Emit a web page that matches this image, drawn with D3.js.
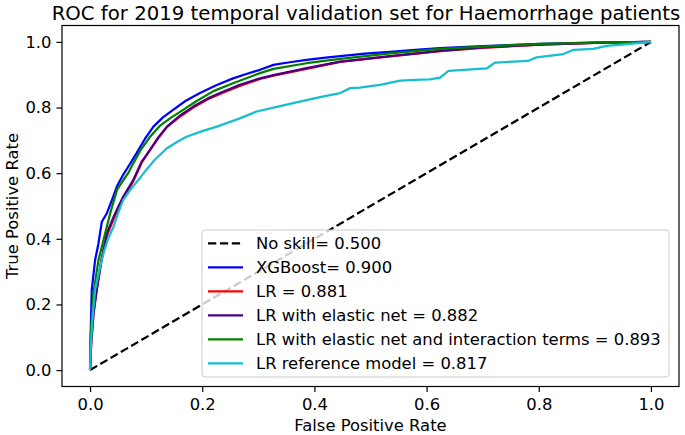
<!DOCTYPE html>
<html>
<head>
<meta charset="utf-8">
<script src="https://cdn.jsdelivr.net/npm/d3@7"></script>
<style>
  html, body { margin: 0; padding: 0; background: #fff; }
  svg { display: block; font-family: "DejaVu Sans", sans-serif; }
</style>
</head>
<body>
<svg id="chart" width="685" height="435"></svg>
<script>
// ---------------- data ----------------
const titleText = "ROC for 2019 temporal validation set for Haemorrhage patients";
const xLabel = "False Positive Rate";
const yLabel = "True Positive Rate";
const tickValues = [0, 0.2, 0.4, 0.6, 0.8, 1.0];

const noSkillFpr = [0, 1];
const noSkillTpr = [0, 1];

const xgbFpr = [0, 0.001, 0.003, 0.009, 0.015, 0.021, 0.030, 0.039, 0.048, 0.059, 0.070, 0.083, 0.098, 0.113, 0.130, 0.148, 0.170, 0.196, 0.225, 0.255, 0.280, 0.303, 0.327, 0.356, 0.386, 0.416, 0.446, 0.490, 0.535, 0.580, 0.624, 0.700, 0.802, 0.900, 1.0];
const xgbTpr = [0, 0.10, 0.244, 0.335, 0.386, 0.452, 0.478, 0.518, 0.560, 0.595, 0.625, 0.661, 0.705, 0.742, 0.770, 0.793, 0.820, 0.844, 0.868, 0.889, 0.903, 0.915, 0.930, 0.938, 0.945, 0.951, 0.957, 0.964, 0.970, 0.976, 0.981, 0.987, 0.994, 0.998, 1.0];

const lrFpr = [0, 0.002, 0.006, 0.012, 0.020, 0.030, 0.042, 0.059, 0.077, 0.092, 0.107, 0.122, 0.137, 0.160, 0.184, 0.210, 0.238, 0.267, 0.303, 0.327, 0.386, 0.446, 0.535, 0.624, 0.700, 0.802, 0.900, 1.0];
const lrTpr = [0, 0.08, 0.17, 0.25, 0.335, 0.41, 0.46, 0.525, 0.575, 0.632, 0.672, 0.708, 0.740, 0.772, 0.800, 0.825, 0.846, 0.866, 0.887, 0.897, 0.918, 0.939, 0.956, 0.972, 0.982, 0.992, 0.997, 1.0];

const enFpr = [0, 0.002, 0.006, 0.012, 0.020, 0.030, 0.042, 0.059, 0.077, 0.092, 0.107, 0.122, 0.137, 0.160, 0.184, 0.210, 0.238, 0.267, 0.303, 0.327, 0.386, 0.446, 0.535, 0.624, 0.700, 0.802, 0.900, 1.0];
const enTpr = [0, 0.08, 0.17, 0.244, 0.33, 0.417, 0.467, 0.528, 0.579, 0.635, 0.670, 0.710, 0.742, 0.775, 0.803, 0.828, 0.849, 0.869, 0.889, 0.899, 0.920, 0.940, 0.957, 0.973, 0.983, 0.992, 0.997, 1.0];

const enIntFpr = [0, 0.001, 0.006, 0.015, 0.027, 0.036, 0.048, 0.060, 0.068, 0.077, 0.090, 0.107, 0.125, 0.145, 0.166, 0.190, 0.220, 0.255, 0.280, 0.303, 0.327, 0.386, 0.446, 0.535, 0.624, 0.700, 0.802, 0.900, 1.0];
const enIntTpr = [0, 0.10, 0.234, 0.335, 0.417, 0.478, 0.549, 0.580, 0.600, 0.630, 0.670, 0.711, 0.745, 0.770, 0.793, 0.820, 0.850, 0.874, 0.890, 0.905, 0.918, 0.935, 0.948, 0.965, 0.979, 0.986, 0.994, 0.998, 1.0];

const refFpr = [0, 0.001, 0.004, 0.009, 0.016, 0.024, 0.032, 0.042, 0.050, 0.059, 0.072, 0.086, 0.100, 0.115, 0.137, 0.155, 0.172, 0.200, 0.226, 0.267, 0.297, 0.335, 0.374, 0.410, 0.446, 0.463, 0.481, 0.517, 0.553, 0.590, 0.606, 0.624, 0.639, 0.707, 0.722, 0.781, 0.796, 0.844, 0.862, 0.897, 0.921, 0.963, 1.0];
const refTpr = [0, 0.06, 0.15, 0.244, 0.30, 0.356, 0.40, 0.437, 0.478, 0.518, 0.550, 0.579, 0.610, 0.640, 0.676, 0.695, 0.711, 0.728, 0.742, 0.767, 0.788, 0.803, 0.818, 0.832, 0.844, 0.859, 0.861, 0.869, 0.882, 0.885, 0.886, 0.891, 0.912, 0.919, 0.937, 0.942, 0.953, 0.963, 0.976, 0.979, 0.988, 0.994, 1.0];

const seriesNames = [
  "No skill= 0.500",
  "XGBoost= 0.900",
  "LR = 0.881",
  "LR with elastic net = 0.882",
  "LR with elastic net and interaction terms = 0.893",
  "LR reference model = 0.817"
];
const seriesColors = ["#000000", "#0000ff", "#ff0000", "#4b0082", "#008000", "#17becf"];
const seriesFpr = [noSkillFpr, xgbFpr, lrFpr, enFpr, enIntFpr, refFpr];
const seriesTpr = [noSkillTpr, xgbTpr, lrTpr, enTpr, enIntTpr, refTpr];

// ---------------- layout ----------------
const svg = d3.select("#chart");
const L = 62, R = 679, T = 25.5, B = 386.5;
const FS = 16.4, TFS = 19.7;

const x = d3.scaleLinear().domain([-0.05, 1.05]).range([L, R]);
const y = d3.scaleLinear().domain([-0.05, 1.05]).range([B, T]);

svg.append("defs").append("clipPath").attr("id", "clip")
  .append("rect").attr("x", L).attr("y", T).attr("width", R - L).attr("height", B - T);

const line = d3.line().x(d => x(d[0])).y(d => y(d[1]));

const plot = svg.append("g").attr("clip-path", "url(#clip)");
seriesNames.forEach((name, i) => {
  const pts = seriesFpr[i].map((f, k) => [f, seriesTpr[i][k]]);
  plot.append("path")
    .attr("d", line(pts))
    .attr("fill", "none")
    .attr("stroke", seriesColors[i])
    .attr("stroke-width", 2.25)
    .attr("stroke-linejoin", "round")
    .attr("stroke-dasharray", i === 0 ? "8.3,3.6" : null);
});

// axes
const fmt = d3.format(".1f");
const xAxis = svg.append("g").attr("transform", `translate(0,${B})`)
  .call(d3.axisBottom(x).tickValues(tickValues).tickFormat(fmt).tickSize(5.5).tickPadding(6));
const yAxis = svg.append("g").attr("transform", `translate(${L},0)`)
  .call(d3.axisLeft(y).tickValues(tickValues).tickFormat(fmt).tickSize(5.5).tickPadding(5));
[xAxis, yAxis].forEach(a => {
  a.select(".domain").remove();
  a.selectAll("line").attr("stroke", "#000").attr("stroke-width", 1.2);
  a.selectAll("text").attr("fill", "#000").style("font-size", FS + "px").style("font-family", "DejaVu Sans");
});

// frame
svg.append("rect").attr("x", L).attr("y", T).attr("width", R - L).attr("height", B - T)
  .attr("fill", "none").attr("stroke", "#000").attr("stroke-width", 1.2);

// title & labels
svg.append("text").attr("x", 366).attr("y", 19.5).attr("text-anchor", "middle")
  .style("font-size", TFS + "px").text(titleText);
svg.append("text").attr("x", (L + R) / 2).attr("y", 431).attr("text-anchor", "middle")
  .style("font-size", FS + "px").text(xLabel);
svg.append("text").attr("transform", `translate(18,${(T + B) / 2}) rotate(-90)`)
  .attr("text-anchor", "middle").style("font-size", FS + "px").text(yLabel);

// legend
const lg = svg.append("g");
lg.append("rect").attr("x", 202).attr("y", 230).attr("width", 467).attr("height", 147)
  .attr("rx", 3).attr("fill", "#fff").attr("fill-opacity", 0.8)
  .attr("stroke", "#cccccc").attr("stroke-width", 1);
seriesNames.forEach((name, i) => {
  const cy = 243.3 + i * 24;
  lg.append("line").attr("x1", 208).attr("x2", 243).attr("y1", cy).attr("y2", cy)
    .attr("stroke", seriesColors[i]).attr("stroke-width", 2.25)
    .attr("stroke-dasharray", i === 0 ? "8.3,3.6" : null);
  lg.append("text").attr("x", 256).attr("y", cy + 6).style("font-size", FS + "px").text(name);
});
</script>
</body>
</html>
